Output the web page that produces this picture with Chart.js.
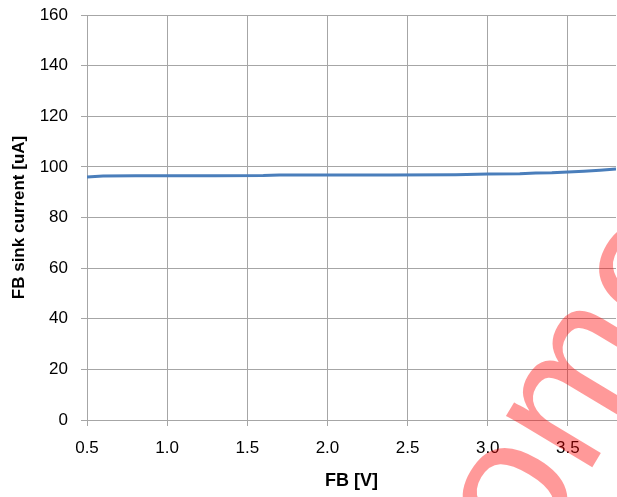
<!DOCTYPE html>
<html>
<head>
<meta charset="utf-8">
<script src="https://cdn.jsdelivr.net/npm/chart.js@4/dist/chart.umd.min.js"></script>
<style>
    html, body { margin: 0; padding: 0; background: #fff; }
    #box { width: 617px; height: 497px; }
</style>
</head>
<body>
<div id="box"><canvas id="graphSink"></canvas></div>
<script>
"use strict"

// values
let fbVolt = [0.5, 0.6, 0.8, 1.0, 1.3, 1.6, 1.7, 2.0, 2.4, 2.8, 3.0, 3.2, 3.3, 3.4, 3.5, 3.6, 3.7, 3.8];
let sinkCurrent = [96.0, 96.4, 96.5, 96.5, 96.5, 96.6, 96.8, 96.8, 96.8, 96.9, 97.2, 97.3, 97.6, 97.7, 98.0, 98.3, 98.7, 99.2];
let xTicks = [0.5, 1.0, 1.5, 2.0, 2.5, 3.0, 3.5];

let points = [];
for (let i = 0; i < fbVolt.length; i++)
    points.push({ x: fbVolt[i], y: sinkCurrent[i] });

let gridColor = "#a6a6a6";
let font = "'Liberation Sans', Arial, sans-serif";

// semi transparent stamp over the plot
let stamp = {
    id: "stamp",
    afterDraw: function (chart) {
        let ctx = chart.ctx;
        ctx.save();
        ctx.translate(531, 569);
        ctx.rotate(-59 * Math.PI / 180);
        ctx.font = "190px " + font;
        ctx.fillStyle = "rgba(255, 0, 0, 0.4)";
        ctx.textBaseline = "alphabetic";
        ctx.fillText("ome", 0, 0);
        ctx.restore();
    }
};

new Chart($("graphSink"), {
    type: "scatter",
    data: {
        datasets: [
            {
                label: "FB sink current",
                data: points,
                showLine: true,
                borderColor: "#4a7ebb",
                backgroundColor: "#4a7ebb",
                borderWidth: 3,
                pointRadius: 0,
                tension: 0
            }
        ]
    },
    options: {
        responsive: true,
        maintainAspectRatio: false,
        animation: false,
        layout: { padding: { top: 15, right: 1, left: 0, bottom: 0 } },
        plugins: {
            legend: { display: false },
            tooltip: { enabled: false }
        },
        scales: {
            x: {
                type: "linear",
                min: 0.5,
                max: 3.8,
                afterBuildTicks: function (axis) {
                    axis.ticks = xTicks.map(v => ({ value: v }));
                },
                afterFit: function (axis) { axis.height = 77; },
                grid: { color: gridColor, lineWidth: 1, tickLength: 6 },
                border: { color: gridColor },
                ticks: {
                    color: "#000",
                    padding: 12,
                    maxRotation: 0,
                    font: { family: font, size: 17 },
                    callback: v => v.toFixed(1)
                },
                title: {
                    display: true,
                    text: "FB [V]",
                    color: "#000",
                    padding: { top: 10, bottom: 5 },
                    font: { family: font, size: 18, weight: "bold" }
                }
            },
            y: {
                min: 0,
                max: 160,
                afterFit: function (axis) {
                    axis.width = 87;
                    axis.paddingTop = 0;
                    axis.paddingBottom = 0;
                },
                grid: { color: gridColor, lineWidth: 1, tickLength: 6 },
                border: { color: gridColor },
                ticks: {
                    stepSize: 20,
                    color: "#000",
                    padding: 13,
                    font: { family: font, size: 17 }
                },
                title: {
                    display: true,
                    text: "FB sink current [uA]",
                    color: "#000",
                    padding: { top: 9, bottom: 4 },
                    font: { family: font, size: 17, weight: "bold" }
                }
            }
        }
    },
    plugins: [stamp]
});

function $(id) { return document.getElementById(id); }
</script>
</body>
</html>
